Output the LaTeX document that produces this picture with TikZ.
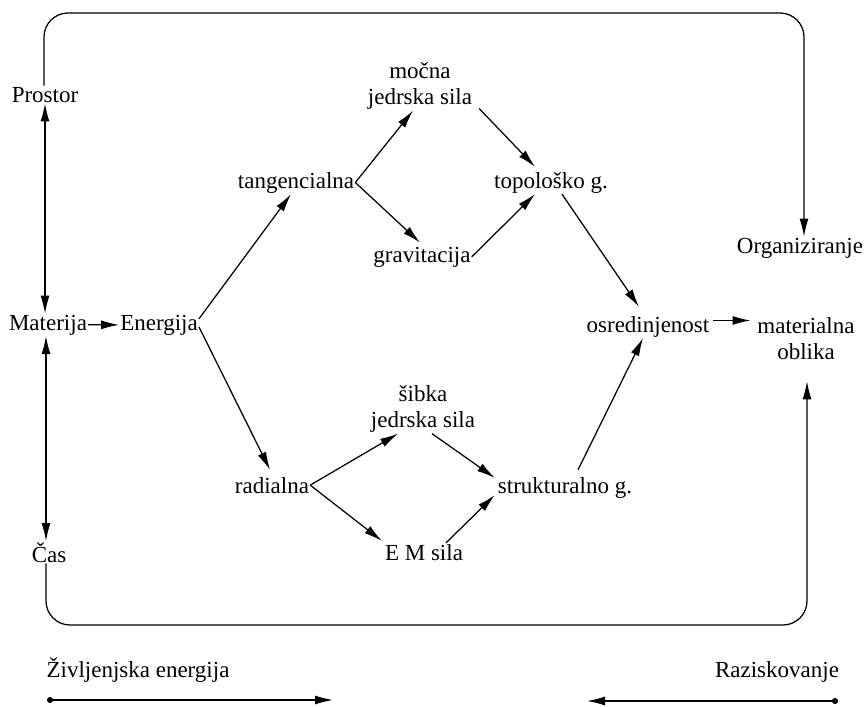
\documentclass[tikz,border=0pt]{standalone}
\usepackage{fontspec}
\setmainfont{Liberation Serif}
\usetikzlibrary{arrows.meta,calc}
\begin{document}
\begin{tikzpicture}[x=1pt,y=-1pt,
  lbl/.style={inner sep=1pt,font=\fontsize{23}{26}\selectfont,align=center},
  tip/.tip={Latex[length=18pt,width=9pt]},
  arr/.style={line width=1.25pt,-tip},
  darr/.style={line width=1.25pt,tip-tip},
  dotarr/.style={line width=1.25pt,{Circle[length=6pt]}-tip}]
\useasboundingbox (0,0) rectangle (868,707);
\fill[white] (0,0) rectangle (868,707);
% nodes
\node[lbl,anchor=base] (pro) at (45,102) {Prostor};
\node[lbl,anchor=base] (mat) at (48,330) {Materija};
\node[lbl,anchor=base] (cas) at (49,562) {Čas};
\node[lbl,anchor=base] (ene) at (159,330) {Energija};
\node[lbl,anchor=base] (tan) at (296,188) {tangencialna};
\node[lbl,anchor=base] (rad) at (272,493) {radialna};
\node[lbl] (moc) at (420,86) {močna\\jedrska sila};
\node[lbl,anchor=base] (gra) at (422,262) {gravitacija};
\node[lbl,anchor=base] (top) at (551,188) {topološko g.};
\node[lbl] (sib) at (423,409) {šibka\\jedrska sila};
\node[lbl,anchor=base] (em) at (424,560) {E M sila};
\node[lbl,anchor=base] (str) at (565,493) {strukturalno g.};
\node[lbl,anchor=base] (osr) at (648,332) {osredinjenost};
\node[lbl] (mo) at (806,339) {materialna\\oblika};
\node[lbl,anchor=base] (org) at (800,253) {Organiziranje};
\node[lbl,anchor=base] (ziv) at (138,677) {Življenjska energija};
\node[lbl,anchor=base] (raz) at (777,677) {Raziskovanje};
% coordinates
\coordinate (ls) at (47,700);
\coordinate (le) at (333,700);
\coordinate (rs) at (838,701);
\coordinate (re) at (587,701);
% loops
\draw[arr,rounded corners=24] (pro.north -| 44,0) |- (804,13) -- ($(org.north)+(4,0)$);
\draw[arr,rounded corners=24] (cas.south -| 46,0) |- (807,625) -- ($(mo.south)+(1,20)$);
% left verticals
\draw[darr] (pro.south -| 45,0) -- (mat.north -| 45,0);
\draw[darr] (mat.south -| 46,0) -- (cas.north -| 46,0);
\draw[arr] (mat.east) -- (ene.west);
% branches
\draw[arr] ($(ene.east)+(0,-6)$) -- ($(tan.south)+(-5,0)$);
\draw[arr] ($(ene.east)+(0,2)$) -- ($(rad.north)+(-2,-6)$);
\draw[arr] (tan.east) -- ($(moc.south)+(-7,0)$);
\draw[arr] (tan.east) -- ($(gra.north)+(-2,-3)$);
\draw[arr] ($(moc.south east)+(6,-2)$) -- ($(top.north)+(-16,-4)$);
\draw[arr] (gra.east) -- ($(top.south)+(-16,0)$);
\draw[arr] ($(top.south)+(11,0)$) -- ($(osr.north)+(-9,-8)$);
\draw[arr] ($(str.north)+(13,-6)$) -- ($(osr.south)+(-5,0)$);
\draw[arr] (rad.east) -- ($(sib.south)+(-25,0)$);
\draw[arr] (rad.east) -- ($(em.north west)+(-2,-2)$);
\draw[arr] ($(sib.south)+(9,0)$) -- ($(str.north west)+(-2,2)$);
\draw[arr] ($(em.north)+(22,0)$) -- ($(str.south west)+(-2,-4)$);
\draw[arr] ($(osr.east)+(2,-6)$) -- ($(osr.east)+(40,-6)$);
% bottom arrows
\draw[dotarr] (ls) -- (le);
\draw[dotarr] (rs) -- (re);
\end{tikzpicture}
\end{document}
